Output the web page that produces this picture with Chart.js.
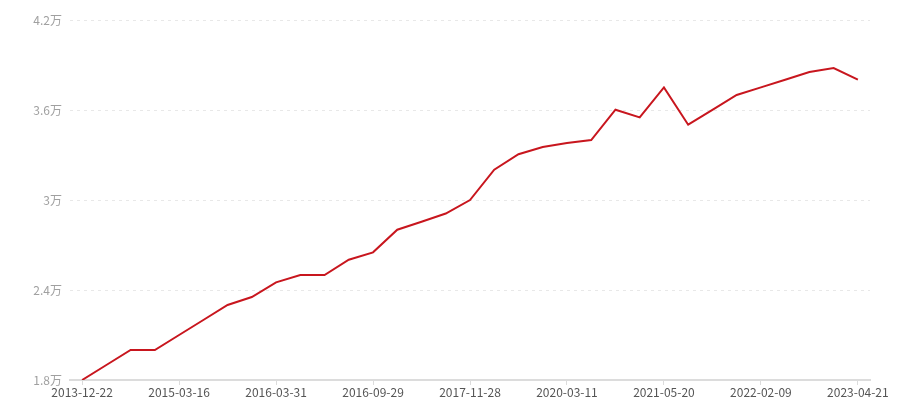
<!DOCTYPE html>
<html>
<head>
<meta charset="utf-8">
<script src="https://cdn.jsdelivr.net/npm/chart.js@4"></script>
<style>
	html, body { margin: 0; padding: 0; background: #fff; }
	#wrap { width: 900px; height: 400px; }
</style>
</head>
<body>
<div id="wrap"><canvas id="chartValor"></canvas></div>
<script>
// dates (only every 4th one is shown on the axis)
var datas = [
	'2013-12-22', '2014-03-20', '2014-06-18', '2014-10-15',
	'2015-03-16', '2015-06-10', '2015-09-08', '2015-12-20',
	'2016-03-31', '2016-05-12', '2016-06-24', '2016-08-15',
	'2016-09-29', '2017-01-18', '2017-05-10', '2017-08-22',
	'2017-11-28', '2018-05-16', '2018-11-06', '2019-06-20',
	'2020-03-11', '2020-07-02', '2020-10-22', '2021-02-04',
	'2021-05-20', '2021-07-15', '2021-09-09', '2021-11-18',
	'2022-02-09', '2022-06-08', '2022-09-28', '2023-01-05',
	'2023-04-21'
];

var valores = [
	18000, 19000, 20000, 20000,
	21000, 22000, 23000, 23530,
	24510, 25000, 25000, 26020,
	26510, 28020, 28550, 29100,
	30000, 32020, 33050, 33530,
	33800, 34000, 36020, 35510,
	37510, 35020, 36010, 37000,
	37510, 38020, 38530, 38800,
	38020
];

var eixoY = [18000, 24000, 30000, 36000, 42000];

var fonte = '"Noto Sans CJK SC", "Noto Sans", sans-serif';

var ctx = document.getElementById('chartValor');

var grafico = new Chart(ctx, {
	type: 'line',
	data: {
		labels: datas,
		datasets: [
			{
				label: '市值',
				data: valores,
				borderColor: '#c8161e',
				borderWidth: 2,
				pointRadius: 0,
				pointHoverRadius: 0,
				tension: 0,
				fill: false
			}
		]
	},
	options: {
		responsive: true,
		maintainAspectRatio: false,
		animation: false,
		layout: {
			padding: { top: 20, right: 30, bottom: 0, left: 0 }
		},
		plugins: {
			legend: { display: false },
			tooltip: { enabled: false }
		},
		scales: {
			x: {
				type: 'category',
				offset: true,
				border: { display: true, color: '#dcdcdc', width: 2 },
				grid: {
					drawOnChartArea: false,
					drawTicks: true,
					tickLength: 5,
					color: '#dcdcdc'
				},
				ticks: {
					autoSkip: false,
					maxRotation: 0,
					padding: 0,
					color: '#555',
					font: { family: fonte, size: 12 },
					callback: function(valor, indice) {
						return indice % 4 === 0 ? datas[indice] : null;
					}
				},
				afterFit: function(escala) { escala.height = 20; }
			},
			y: {
				min: eixoY[0],
				max: eixoY[eixoY.length - 1],
				border: { display: false, dash: [3, 4] },
				grid: {
					color: '#e8e8e8',
					drawTicks: false
				},
				afterBuildTicks: function(escala) {
					escala.ticks = eixoY.map(function(v) { return { value: v }; });
				},
				ticks: {
					padding: 8,
					color: '#a0a0a0',
					font: { family: fonte, size: 12 },
					callback: function(valor) {
						return (valor / 10000) + '万';
					}
				},
				afterFit: function(escala) { escala.width = 70; }
			}
		}
	}
});
</script>
</body>
</html>
